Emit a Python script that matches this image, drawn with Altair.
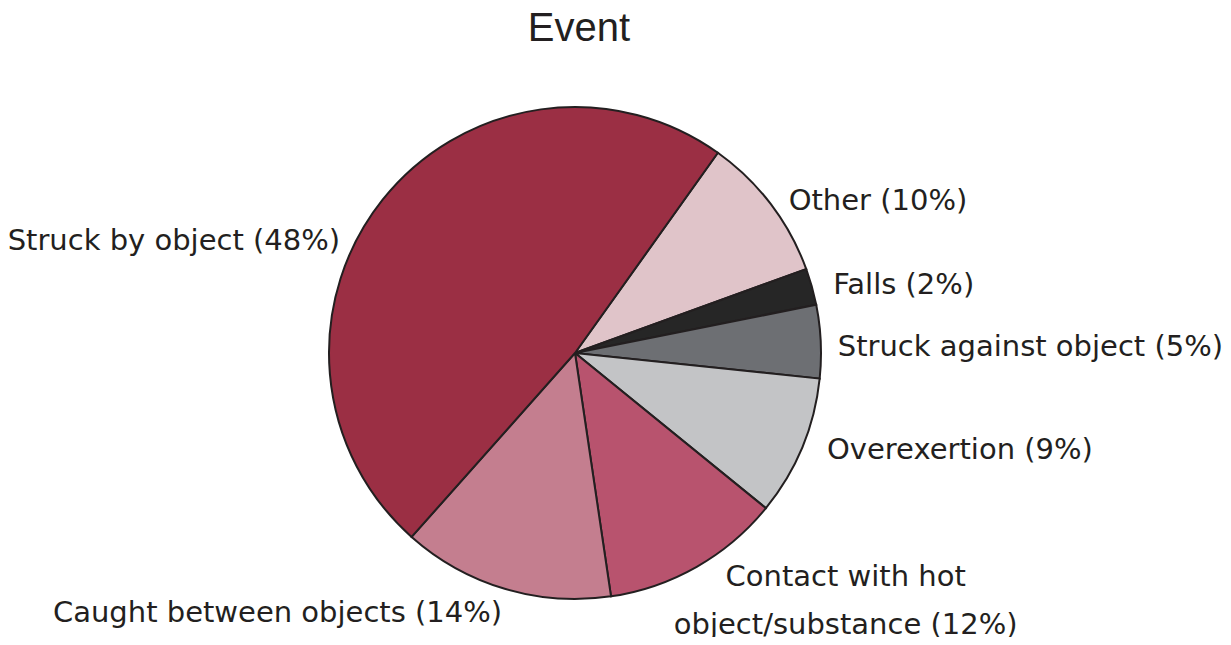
import math
import altair as alt
import pandas as pd

# ---- data ----
categories = [
    "Other",
    "Falls",
    "Struck against object",
    "Overexertion",
    "Contact with hot object/substance",
    "Caught between objects",
    "Struck by object",
]
shares = [9.6, 2.4, 4.8, 9.2, 11.8, 13.9, 48.3]
label_pcts = [10, 2, 5, 9, 12, 14, 48]
label_names = [
    "Other",
    "Falls",
    "Struck against object",
    "Overexertion",
    "Contact with hot\nobject/substance",
    "Caught between objects",
    "Struck by object",
]
colors = ["#e0c4c9", "#262626", "#6d6f73", "#c3c4c6", "#b8536e", "#c47e8f", "#9b2f44"]

df = pd.DataFrame({
    "cat": categories,
    "share": shares,
    "order": list(range(len(categories))),
    "label": [f"{n} ({p}%)" for n, p in zip(label_names, label_pcts)],
})

# ---- layout / style ----
W, H = 1215, 629
CX, CY = 567, 345
R = 246
LABEL_R = 262
START = math.radians(35.5)
theta_scale = alt.Scale(domain=[0, 100], range=[START, START + 2 * math.pi])
TXT = "#231f20"

label_style = {
    "Other": ("left", 5, 6),
    "Falls": ("left", 6, 3),
    "Struck against object": ("left", 1, 6),
    "Overexertion": ("left", 10, -3),
    "Contact with hot object/substance": ("center", 141, -4),
    "Caught between objects": ("right", 2, 9),
    "Struck by object": ("right", -30, 51),
}

base = alt.Chart(df).transform_window(
    end="sum(share)", sort=[alt.SortField("order")], frame=[None, 0]
).transform_calculate(
    start="datum.end - datum.share",
    mid="datum.end - datum.share / 2",
)

arcs = base.mark_arc(outerRadius=R, stroke="#231f20", strokeWidth=2).encode(
    theta=alt.Theta("start:Q", scale=theta_scale),
    theta2="end:Q",
    color=alt.Color("cat:N", scale=alt.Scale(domain=categories, range=colors), legend=None),
    x=alt.value(CX),
    y=alt.value(CY),
)

layers = [arcs]
for cat in categories:
    align, dx, dy = label_style[cat]
    layers.append(
        base.transform_filter(alt.datum.cat == cat).mark_text(
            align=align, baseline="middle", dx=dx, dy=dy,
            font="DejaVu Sans", fontSize=29, color=TXT,
            lineBreak="\n", lineHeight=48,
        ).encode(
            theta=alt.Theta("mid:Q", scale=theta_scale),
            radius=alt.value(LABEL_R),
            text="label:N",
            x=alt.value(CX),
            y=alt.value(CY),
        )
    )

title = alt.Chart(pd.DataFrame({"t": ["Event"]})).mark_text(
    font="Liberation Sans", fontSize=40, color=TXT, align="center", baseline="alphabetic"
).encode(text="t:N", x=alt.value(571), y=alt.value(33))
layers.append(title)

chart = alt.layer(*layers).properties(
    width=W, height=H, autosize=alt.AutoSizeParams(type="none"), padding=0
).configure_view(stroke=None)

chart.save("out.html", embed_options={"renderer": "svg", "actions": False})
